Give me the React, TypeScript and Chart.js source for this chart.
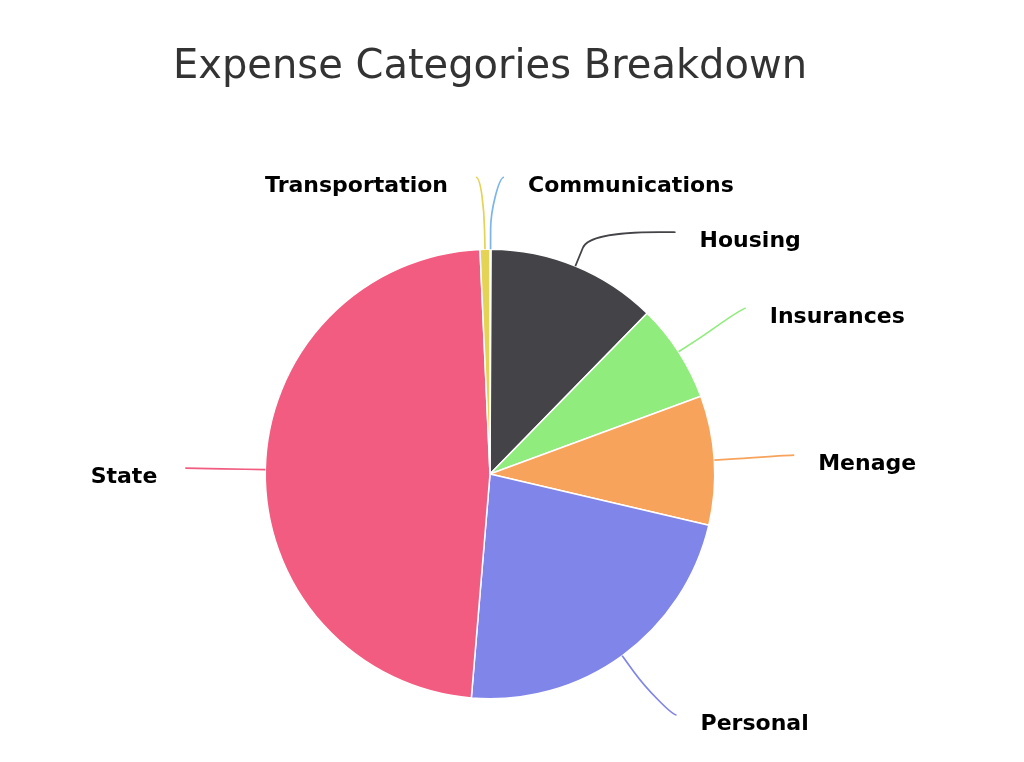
import React, { useEffect, useRef } from 'react';
import { Chart, registerables } from 'chart.js';

Chart.register(...registerables);

const titleText = 'Expense Categories Breakdown';
const categories = ['Communications', 'Housing', 'Insurances', 'Menage', 'Personal', 'State', 'Transportation'];
const values = [0.08, 12.24, 7.06, 9.28, 22.67, 47.97, 0.71];
const colors = ['#7cb5ec', '#434348', '#90ed7d', '#f7a35c', '#8085e9', '#f15c80', '#e4d354'];

// label layout styling
const LABEL_DISTANCE = 80;
const BREAK_OFFSET = 20;
const LABEL_SPACING = 55;
const TOP_CLAMP = 8;
const BOTTOM_MARGIN = 47;
const MIN_DX = 14;
const TEXT_GAP_RIGHT = 24;
const TEXT_GAP_LEFT = 28;
const TEXT_DY = 15;
const LABEL_FONT = 'bold 22px "DejaVu Sans"';

const pieLabels = {
  id: 'pieLabels',
  afterDatasetsDraw(chart: any) {
    const meta = chart.getDatasetMeta(0);
    const ctx: CanvasRenderingContext2D = chart.ctx;
    const items = meta.data.map((arc: any, i: number) => {
      const p = arc.getProps(['x', 'y', 'startAngle', 'endAngle', 'outerRadius'], true);
      const mid = (p.startAngle + p.endAngle) / 2;
      const R = p.outerRadius + LABEL_DISTANCE;
      const cos = Math.cos(mid);
      const sin = Math.sin(mid);
      return {
        i,
        cx: p.x,
        cy: p.y,
        r: p.outerRadius,
        R,
        cos,
        sin,
        nx: p.x + R * cos,
        ny: p.y + R * sin,
        right: cos >= 0,
        x: 0,
        y: 0,
      };
    });

    [true, false].forEach((side) => {
      const list = items.filter((it: any) => it.right === side).sort((a: any, b: any) => a.ny - b.ny);
      let prev = -Infinity;
      list.forEach((it: any) => {
        const topLimit = it.cy - it.R + TOP_CLAMP;
        const bottomLimit = chart.height - BOTTOM_MARGIN;
        const yTop = Math.max(it.ny, topLimit);
        let y = Math.max(yTop, prev + LABEL_SPACING);
        y = Math.min(y, bottomLimit);
        prev = y;
        it.y = y;
        const dir = side ? 1 : -1;
        if (y !== yTop) {
          const dy = y - it.cy;
          it.x = it.cx + dir * Math.sqrt(Math.max(0, it.R * it.R - dy * dy));
        } else {
          it.x = it.nx;
        }
        if (Math.abs(it.x - it.cx) < MIN_DX) it.x = it.cx + dir * MIN_DX;
      });
    });

    ctx.save();
    items.forEach((it: any) => {
      const tx = it.cx + it.r * it.cos;
      const ty = it.cy + it.r * it.sin;
      const bx = it.cx + (it.r + BREAK_OFFSET) * it.cos;
      const by = it.cy + (it.r + BREAK_OFFSET) * it.sin;
      ctx.beginPath();
      ctx.moveTo(it.x, it.y);
      ctx.bezierCurveTo(it.x + (it.right ? -5 : 5), it.y, 2 * bx - tx, 2 * by - ty, bx, by);
      ctx.lineTo(tx, ty);
      ctx.strokeStyle = colors[it.i];
      ctx.lineWidth = 1.7;
      ctx.stroke();
    });
    ctx.font = LABEL_FONT;
    ctx.textBaseline = 'alphabetic';
    items.forEach((it: any) => {
      const lx = it.right ? it.x + TEXT_GAP_RIGHT : it.x - TEXT_GAP_LEFT;
      const ly = it.y + TEXT_DY;
      ctx.textAlign = it.right ? 'left' : 'right';
      ctx.lineJoin = 'round';
      ctx.lineWidth = 2;
      ctx.strokeStyle = '#ffffff';
      ctx.strokeText(categories[it.i], lx, ly);
      ctx.fillStyle = '#000000';
      ctx.fillText(categories[it.i], lx, ly);
    });
    ctx.restore();
  },
};

export default function App() {
  const ref = useRef<HTMLCanvasElement | null>(null);
  useEffect(() => {
    if (!ref.current) return;
    const chart = new Chart(ref.current, {
      type: 'pie',
      data: {
        labels: categories,
        datasets: [
          {
            data: values,
            backgroundColor: colors,
            borderColor: '#ffffff',
            borderWidth: 1.5,
          },
        ],
      },
      options: {
        responsive: false,
        maintainAspectRatio: false,
        animation: false,
        events: [],
        layout: { padding: { left: 0, right: 44, top: 0, bottom: 62.5 } },
        plugins: {
          legend: { display: false },
          tooltip: { enabled: false },
          title: {
            display: true,
            text: titleText,
            color: '#333333',
            font: { family: '"DejaVu Sans"', size: 40, weight: 'normal', lineHeight: 1.2 },
            padding: { top: 44, bottom: 156.5 },
          },
        },
      },
      plugins: [pieLabels],
    } as any);
    return () => chart.destroy();
  }, []);
  return (
    <div style={{ position: 'absolute', left: 0, top: 0, width: 1024, height: 762, background: '#fff' }}>
      <canvas ref={ref} width={1024} height={762} style={{ display: 'block' }} />
    </div>
  );
}
